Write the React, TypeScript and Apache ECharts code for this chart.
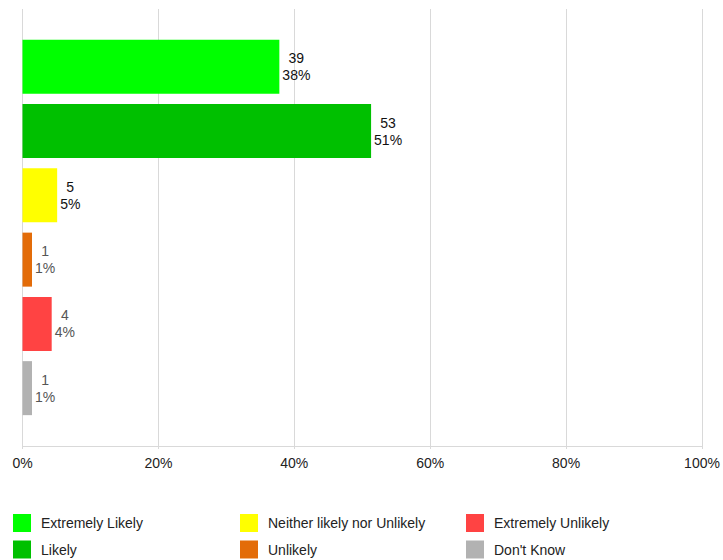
import React, { useEffect, useRef } from "react";
import * as echarts from "echarts";

const seriesNames = [
  "Extremely Likely",
  "Likely",
  "Neither likely nor Unlikely",
  "Unlikely",
  "Extremely Unlikely",
  "Don't Know",
];
const barValues = [37.8, 51.3, 5.1, 1.4, 4.3, 1.4];
const counts = [39, 53, 5, 1, 4, 1];
const percentLabels = ["38%", "51%", "5%", "1%", "4%", "1%"];
const colors = ["#00ff00", "#00c000", "#ffff00", "#e36c09", "#ff4343", "#b2b2b2"];
const labelColors = ["#111111", "#111111", "#111111", "#555555", "#555555", "#555555"];
const xTicks = [0, 20, 40, 60, 80, 100];

const FONT = "'Liberation Sans', Arial, Helvetica, sans-serif";

export default function App() {
  const ref = useRef<HTMLDivElement>(null);
  useEffect(() => {
    if (!ref.current) return;
    const chart = echarts.init(ref.current, null, { renderer: "svg" });
    const series = seriesNames.map((name, i) => ({
      name,
      type: "bar",
      data: [barValues[i]],
      barWidth: 54,
      barGap: "19%",
      itemStyle: { color: colors[i] },
      label: {
        show: true,
        position: "right",
        distance: 3,
        formatter: () => `{a|${counts[i]}}\n{a|${percentLabels[i]}}`,
        rich: {
          a: {
            align: "center",
            fontSize: 14,
            lineHeight: 17,
            fontFamily: FONT,
            color: labelColors[i],
          },
        },
      },
    }));
    const legendCols = [
      [seriesNames[0], seriesNames[1]],
      [seriesNames[2], seriesNames[3]],
      [seriesNames[4], seriesNames[5]],
    ];
    const legendLefts = [13, 240, 466];
    chart.setOption({
      animation: false,
      grid: { left: 22.5, right: 21, top: 9, bottom: 114, containLabel: false },
      xAxis: {
        type: "value",
        min: xTicks[0],
        max: xTicks[xTicks.length - 1],
        interval: 20,
        axisLine: { show: true, lineStyle: { color: "#d9d9d9", width: 1 } },
        axisTick: { show: true, length: 3, lineStyle: { color: "#d9d9d9" } },
        splitLine: { show: true, lineStyle: { color: "#d9d9d9", width: 1 } },
        axisLabel: {
          formatter: "{value}%",
          fontSize: 14,
          fontFamily: FONT,
          color: "#222222",
          margin: 10,
        },
      },
      yAxis: {
        type: "category",
        data: [""],
        axisLine: { show: false },
        axisTick: { show: false },
        axisLabel: { show: false },
      },
      legend: legendCols.map((col, k) => ({
        data: col,
        orient: "vertical",
        left: legendLefts[k],
        top: 514,
        width: 220,
        height: 46,
        padding: 0,
        itemWidth: 18,
        itemHeight: 18,
        itemGap: 8.5,
        icon: "rect",
        selectedMode: false,
        textStyle: {
          fontSize: 14,
          fontFamily: FONT,
          color: "#222222",
          padding: [0, 0, 0, 5],
        },
      })),
      series,
    });
    return () => chart.dispose();
  }, []);
  return (
    <div
      ref={ref}
      style={{ position: "fixed", left: 0, top: 0, width: 723, height: 560, background: "#fff" }}
    />
  );
}
